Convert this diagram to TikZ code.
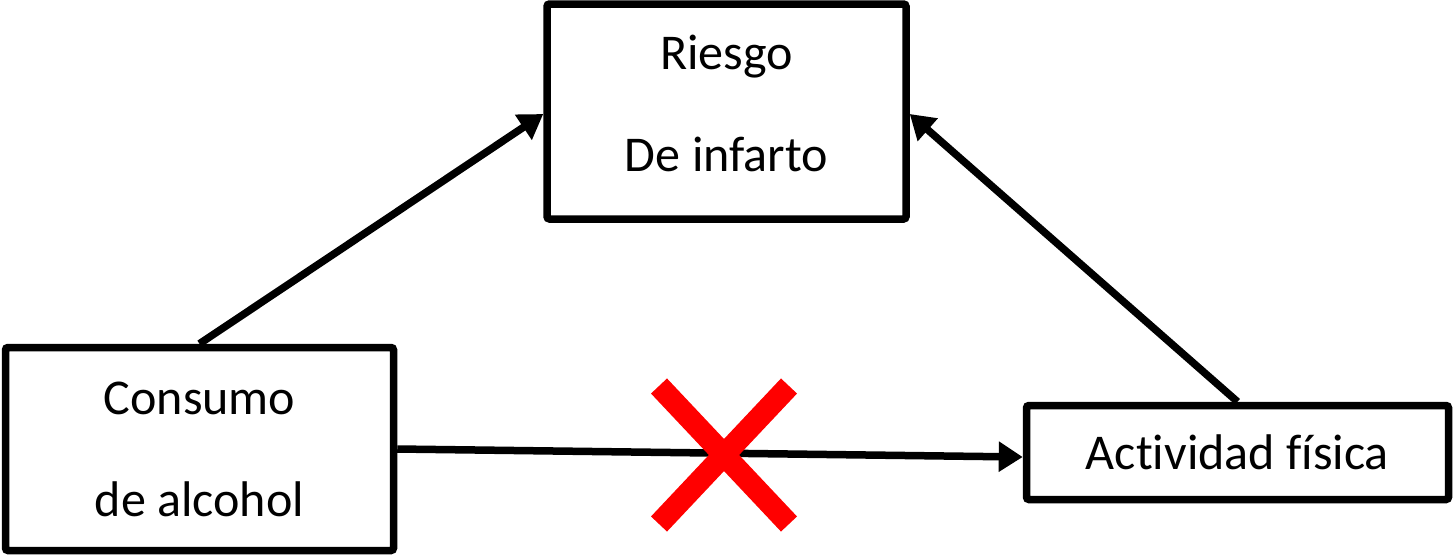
\documentclass[tikz,border=0pt]{standalone}
\usepackage{fontspec}
\setmainfont{Carlito}[RawFeature=-liga]
\usetikzlibrary{arrows.meta}
\begin{document}
\begin{tikzpicture}[box/.style={draw, line width=0.15cm, rounded corners=0.05cm, align=center, font=\fontsize{28.5}{58}\selectfont},
    flecha/.style={line width=0.15cm, -{Triangle[length=0.48cm,width=0.58cm]}}]
    \useasboundingbox (0,0) rectangle (29.1,-11.14);

    \node[box, minimum width=7.18cm, minimum height=4.3cm, text depth=0.32cm] (riesgo) at (14.53,-2.23) {Riesgo\\De infarto};
    \node[box, minimum width=7.76cm, minimum height=4.06cm] (consumo) at (3.99,-8.98) {Consumo\\de alcohol};
    \node[box, minimum width=8.44cm, minimum height=1.88cm] (actividad) at (24.75,-9.05) {Actividad física};

    \draw[flecha] (consumo.north) -- ([yshift=-0.05cm]riesgo.west);
    \draw[flecha] (actividad.north) -- ([yshift=-0.05cm]riesgo.east);
    \draw[flecha] (consumo.east) -- ([yshift=-0.09cm]actividad.west);

%    cruz roja
    \coordinate (cruz) at (14.48,-9.1);
    \draw[red, line width=0.44cm] ([shift={(-1.3,1.38)}]cruz) -- ([shift={(1.3,-1.38)}]cruz);
    \draw[red, line width=0.44cm] ([shift={(1.3,1.38)}]cruz) -- ([shift={(-1.3,-1.38)}]cruz);

\end{tikzpicture}
\end{document}
